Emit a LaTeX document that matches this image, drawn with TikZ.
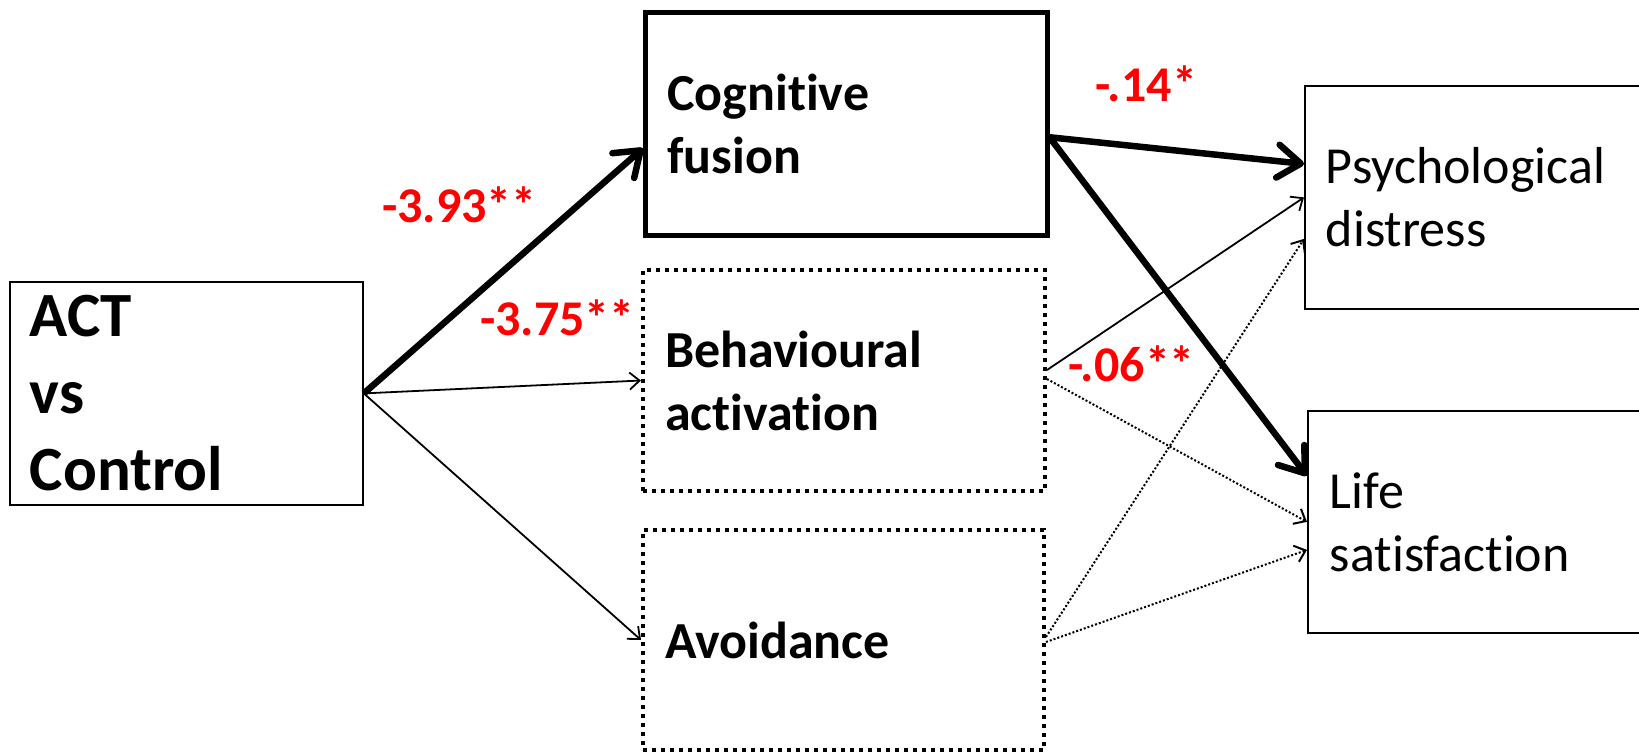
\documentclass[tikz,border=0pt]{standalone}
\usepackage{fontspec}
\setmainfont{Carlito}[Ligatures=NoCommon]
\usetikzlibrary{arrows.meta}

\begin{document}
\begin{tikzpicture}[x=1pt, y=-1pt,
    box/.style={draw, rectangle, line width=1.8pt, inner xsep=21pt, inner ysep=0pt,
                align=left, anchor=north west, font=\fontsize{52}{63}\selectfont},
    mediator/.style={box, line width=4pt, dash pattern=on 4pt off 5pt,
                font=\fontsize{52}{63}\selectfont\bfseries},
    coef/.style={anchor=base west, inner sep=0pt, text=red,
                font=\fontsize{50}{60}\selectfont\bfseries},
    link/.style={-{Straight Barb[length=10pt, width=17pt]}, line width=1.8pt},
    weak/.style={link, line width=2pt, dash pattern=on 2pt off 2pt},
    strong/.style={-{Straight Barb[length=23pt, width=33pt, round]}, line width=6.5pt}]
    \useasboundingbox (0, 0) rectangle (1639, 753);
    \clip (0, 0) rectangle (1639, 753);
    % predictor, mediators, outcomes
    \node[box, inner xsep=20pt, text width=313pt, minimum height=223pt,
          font=\fontsize{63}{77}\selectfont\bfseries] (act) at (9, 281) {ACT\\vs\\Control};
    \node[box, line width=4.5pt, inner xsep=22pt, text width=358pt, minimum height=223pt,
          font=\fontsize{52}{63}\selectfont\bfseries] (cog) at (643, 10) {Cognitive\\fusion};
    \node[mediator, inner xsep=22pt, text width=358pt, minimum height=221pt] (beh) at (641, 268) {Behavioural\\activation};
    \node[mediator, inner xsep=22pt, text width=357pt, minimum height=220pt] (avoid) at (641, 528) {Avoidance};
    \node[box, text width=334pt, minimum height=223pt] (psych) at (1304, 85) {Psychological\\distress};
    \node[box, inner xsep=22pt, text width=329pt, minimum height=222pt] (life) at (1307, 410) {Life\\satisfaction};
    % a paths
    \draw[strong] (act.east) -- ([yshift=-24.5pt]cog.west);
    \foreach \b in {beh, avoid}
        \draw[link] (act.east) -- (\b.west);
    % b paths
    \draw[strong] ([yshift=-13.5pt]cog.east) -- ([yshift=33.5pt]psych.west);
    \draw[strong] ([yshift=-13.5pt]cog.east) -- ([yshift=46pt]life.west);
    \draw[link] ([yshift=10.5pt]beh.east) -- (psych.west);
    \draw[weak] ([yshift=1.5pt]beh.east) -- (life.west);
    \draw[weak] ([yshift=3pt]avoid.east) -- ([yshift=-41.5pt]psych.west);
    \draw[weak] ([yshift=-2pt]avoid.east) -- ([yshift=-28pt]life.west);
    % coefficients
    \node[coef] (c1) at (382, 222) {-3.93**};
    \node[coef] (c2) at (480, 335) {-3.75**};
    \node[coef] (c3) at (1095, 101) {-.14*};
    \node[coef] (c4) at (1068, 381) {-.06**};
\end{tikzpicture}
\end{document}
